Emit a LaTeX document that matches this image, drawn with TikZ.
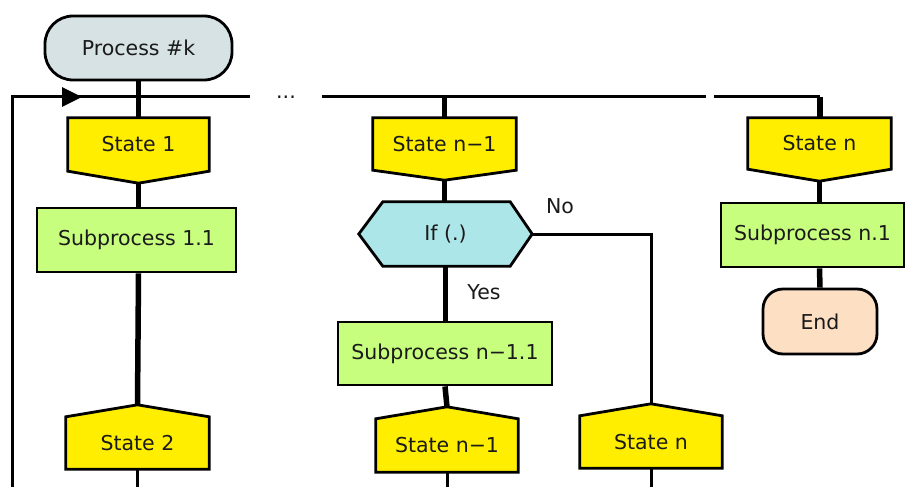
\documentclass[tikz,border=0pt]{standalone}
\usepackage{fontspec}
\setmainfont{DejaVu Sans}
\usetikzlibrary{backgrounds,calc,arrows.meta}
\definecolor{procfill}{HTML}{D6E2E3}
\definecolor{statefill}{HTML}{FFEE00}
\definecolor{subfill}{HTML}{C8FE7E}
\definecolor{iffill}{HTML}{ADE6E9}
\definecolor{endfill}{HTML}{FDDFC3}
\definecolor{txt}{HTML}{1A1A1A}
\begin{document}
\begin{tikzpicture}[x=1pt,y=-1pt,
  every node/.style={font=\fontsize{20.5}{23}\selectfont, text=txt, inner sep=0pt},
  bord/.style={draw=black, line width=2.8pt, line join=miter},
  conthin/.style={draw=black, line width=3pt},
  conthick/.style={draw=black, line width=5.5pt},
  subbox/.style={rectangle, bord, fill=subfill},
]
\useasboundingbox (0,0) rectangle (906,487);

% terminators
\node[bord, fill=procfill, rounded corners=28pt, minimum width=187pt, minimum height=64pt] (proc) at (138.5,48) {Process \#k};
\node[bord, fill=endfill, rounded corners=20pt, minimum width=114pt, minimum height=65pt] (endn) at (820,321.5) {End};

% state bodies (shapes drawn on background)
\node[minimum width=141pt, minimum height=53pt] (s1) at (138.5,144.5) {State 1};
\node[minimum width=143pt, minimum height=52pt] (s2) at (137.5,443) {State 2};
\node[minimum width=143pt, minimum height=52pt] (sn1) at (444.5,144) {State n−1};
\node[minimum width=142pt, minimum height=53pt] (sn1b) at (447,445.5) {State n−1};
\node[minimum width=142pt, minimum height=52pt] (snb) at (651,442) {State n};
\node[minimum width=143pt, minimum height=51pt] (sn) at (819.5,143.5) {State n};
\node[minimum width=173pt, minimum height=64pt] (ifn) at (445.5,234) {If (.)};

% subprocesses
\node[subbox, minimum width=199pt, minimum height=64pt] (sub11) at (136.5,240) {Subprocess 1.1};
\node[subbox, minimum width=214pt, minimum height=63pt] (subn11) at (445,353.5) {Subprocess n−1.1};
\node[subbox, minimum width=183pt, minimum height=64pt] (subn1) at (812.5,235) {Subprocess n.1};

\begin{scope}[on background layer]
  % header shapes pointing down
  \foreach \n/\d in {s1/12pt, sn1/10pt, sn/12pt}{
    \draw[bord, fill=statefill] (\n.north west) -- (\n.north east) -- (\n.south east)
      -- ([yshift=-\d]\n.south) coordinate (\n tip) -- (\n.south west) -- cycle;
  }
  % shapes pointing up
  \foreach \n in {s2, sn1b, snb}{
    \draw[bord, fill=statefill] (\n.south west) -- (\n.south east) -- (\n.north east)
      -- ([yshift=12pt]\n.north) coordinate (\n tip) -- (\n.north west) -- cycle;
  }
  % hexagon
  \draw[bord, fill=iffill] (ifn.west) -- ([xshift=24pt]ifn.north west) -- ([xshift=-22pt]ifn.north east)
    -- (ifn.east) -- ([xshift=-22pt]ifn.south east) -- ([xshift=24pt]ifn.south west) -- cycle;
\end{scope}

% skeleton line
\coordinate (L0) at (12,487);
\coordinate (Lc) at (12,97);
\coordinate (Lar) at (82,97);
\coordinate (L1) at (250,97);
\coordinate (L2) at (322,97);
\coordinate (L3) at (706,97);
\coordinate (L4) at (714,97);
\coordinate (L5) at (820,97);
\node[anchor=base] (dots) at (286,99) {...};

\draw[conthin] (L0) -- (Lc) -- (L1);
\draw[conthin, -{Triangle[length=20pt,width=19pt]}] (Lc) -- (Lar);
\draw[conthin] (L2) -- (L3);
\draw[conthin] (L4) -- (L5);

% column 1
\draw[conthick] (proc.south) -- (proc.south |- s1.north);
\draw[conthick] (s1tip) -- (s1tip |- sub11.north);
\draw[conthick] (sub11.south -| s1tip) -- (s2tip);
\draw[conthin] (s2.south) -- (s2.south |- L0);

% column 2
\draw[conthick] (sn1.north |- L2) -- (sn1.north);
\draw[conthick] (sn1tip) -- (sn1tip |- ifn.north);
\draw[conthick] (ifn.south) -- (ifn.south |- subn11.north);
\draw[conthick] (subn11.south) -- (sn1btip);
\draw[conthin] (sn1b.south) -- (sn1b.south |- L0);
\node (yes) at (484,292) {Yes};

% column 3 (No branch)
\draw[conthin] (ifn.east) -| (snbtip);
\draw[conthin] (snb.south) -- (snb.south |- L0);
\node (no) at (560,206) {No};

% column 4
\draw[conthick] (L5) -- (L5 |- sn.north);
\draw[conthick] (sntip) -- (sntip |- subn1.north);
\draw[conthick] (subn1.south -| sntip) -- (endn.north);
\end{tikzpicture}
\end{document}
